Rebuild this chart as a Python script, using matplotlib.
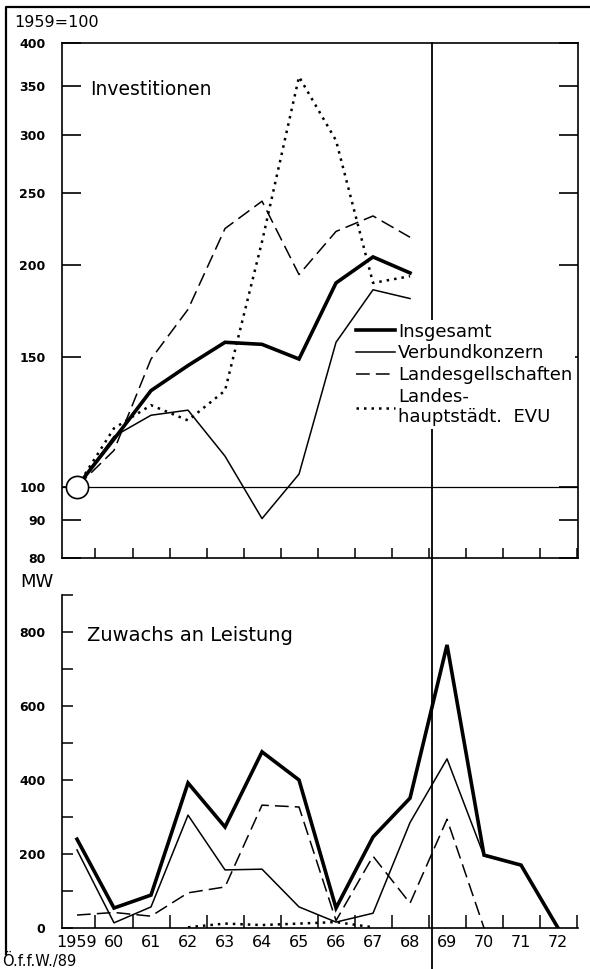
import matplotlib
matplotlib.use("Agg")
import matplotlib.pyplot as plt
from matplotlib.lines import Line2D
from matplotlib.ticker import FixedLocator, NullLocator, FixedFormatter

# Investitionen, index 1959 = 100
years_inv = [1959, 1960, 1961, 1962, 1963, 1964, 1965, 1966, 1967, 1968]
insgesamt_inv = [100, 116, 135, 146, 157, 156, 149, 189, 205, 195]
verbund_inv = [100, 117, 125, 127, 110, 90.5, 104, 157, 185, 180]
landesges_inv = [100, 112, 149, 174, 224, 244, 194, 222, 233, 218]
hauptst_inv = [100, 120, 129, 123, 135, 215, 360, 295, 189, 193]

# Zuwachs an Leistung, MW
years_mw = list(range(1959, 1973))
insgesamt_mw = [240, 54, 89, 392, 273, 476, 400, 54, 246, 351, 765, 197, 170, 0]
verbund_mw = [211, 14, 57, 305, 157, 159, 57, 16, 40, 285, 457, 195, 170, 0]
years_landesges_mw = list(range(1959, 1971))
landesges_mw = [35, 42, 32, 95, 111, 332, 327, 20, 194, 67, 294, 0]
years_hauptst_mw = [1962, 1963, 1964, 1965, 1966, 1967]
hauptst_mw = [2, 12, 8, 12, 16, 2]

labels = ["Insgesamt", "Verbundkonzern", "Landesgellschaften",
          "Landes-\nhauptstädt.  EVU"]
inv_ticks = [80, 90, 100, 150, 200, 250, 300, 350, 400]
mw_ticks = [0, 100, 200, 300, 400, 500, 600, 700, 800, 900]
mw_labels = ["0", "", "200", "", "400", "", "600", "", "800", ""]
year_labels = ["1959"] + [str(y % 100) for y in years_mw[1:]]
split_year = 1968.6

styles = [
    dict(color="black", lw=2.6, solid_joinstyle="miter"),
    dict(color="black", lw=1.1),
    dict(color="black", lw=1.1, dashes=(9, 4)),
    dict(color="black", lw=1.8, dashes=(1, 2.0)),
]

fig = plt.figure(figsize=(5.9, 9.69), dpi=100)
ax1 = fig.add_axes([0.1051, 0.4241, 0.8746, 0.5315])
ax2 = fig.add_axes([0.1051, 0.0423, 0.8746, 0.3437])
ax2.patch.set_visible(False)

xlim = (1958.595, 1972.54)
half_years = [y + 0.5 for y in years_mw]

# --- top panel ---
for vals, st, lab in zip([insgesamt_inv, verbund_inv, landesges_inv, hauptst_inv],
                         styles, labels):
    ax1.plot(years_inv, vals, label=lab, **st)
ax1.plot(years_inv[0], insgesamt_inv[0], "o", ms=16, mfc="white", mec="black",
         mew=1.2, zorder=6, clip_on=False)
ax1.axhline(100, color="black", lw=0.9)
ax1.axvline(split_year, ymin=-0.8, ymax=1, color="black", lw=1.3, clip_on=False)

ax1.set_yscale("log")
ax1.set_ylim(80, 400)
ax1.set_xlim(*xlim)
ax1.yaxis.set_major_locator(FixedLocator(inv_ticks))
ax1.yaxis.set_major_formatter(FixedFormatter([str(t) for t in inv_ticks]))
ax1.yaxis.set_minor_locator(NullLocator())
ax1.xaxis.set_major_locator(FixedLocator(half_years))
ax1.xaxis.set_minor_locator(NullLocator())
ax1.tick_params(axis="y", which="major", direction="in", left=True, right=True,
                length=13.5, width=1.2, pad=12, labelsize=9)
ax1.tick_params(axis="x", which="major", direction="in", length=7, width=1.1,
                labelbottom=False)
for lbl in ax1.get_yticklabels():
    lbl.set_fontweight("bold")
for sp in ax1.spines.values():
    sp.set_linewidth(1.2)

ax1.text(0.054, 0.909, "Investitionen", transform=ax1.transAxes,
         fontsize=13.5, ha="left", va="center")

leg = ax1.legend(loc="upper left", bbox_to_anchor=(0.565, 0.462), fontsize=13,
                 frameon=True, framealpha=1, edgecolor="white", fancybox=False,
                 handlelength=2.15, handletextpad=0.15, labelspacing=0.2,
                 borderpad=0.15, borderaxespad=0)
leg.get_frame().set_linewidth(0)

# --- bottom panel ---
ax2.plot(years_mw, verbund_mw, **styles[1])
ax2.plot(years_landesges_mw, landesges_mw, **styles[2])
ax2.plot(years_hauptst_mw, hauptst_mw, **styles[3])
ax2.plot(years_mw, insgesamt_mw, **styles[0])

ax2.set_ylim(0, 900)
ax2.set_xlim(*xlim)
ax2.yaxis.set_major_locator(FixedLocator(mw_ticks))
ax2.yaxis.set_major_formatter(FixedFormatter(mw_labels))
ax2.xaxis.set_major_locator(FixedLocator(half_years))
ax2.xaxis.set_major_formatter(FixedFormatter([""] * len(half_years)))
ax2.xaxis.set_minor_locator(FixedLocator(years_mw))
ax2.xaxis.set_minor_formatter(FixedFormatter(year_labels))
ax2.tick_params(axis="y", direction="in", length=8, width=1.1, pad=12,
                labelsize=9)
ax2.tick_params(axis="x", which="major", direction="in", length=9.5, width=1.1)
ax2.tick_params(axis="x", which="minor", length=0, pad=5, labelsize=11.5)
for lbl in ax2.get_yticklabels():
    lbl.set_fontweight("bold")
ax2.spines["top"].set_visible(False)
ax2.spines["right"].set_visible(False)
ax2.spines["left"].set_linewidth(1.2)
ax2.spines["bottom"].set_linewidth(1.2)

ax2.text(0.048, 0.877, "Zuwachs an Leistung", transform=ax2.transAxes,
         fontsize=14, ha="left", va="center")

# --- figure texts and frame ---
fig.text(0.025, 0.9768, "1959=100", fontsize=11.5, ha="left", va="center")
fig.text(0.034, 0.3994, "MW", fontsize=13, ha="left", va="center")
fig.text(0.003, 0.0085, "Ö.f.f.W./89", fontsize=10.5, ha="left", va="center")
fig.add_artist(Line2D([0.010, 0.010, 1.0], [0.015, 0.993, 0.993],
                      transform=fig.transFigure, color="black", lw=1.6))

fig.savefig("out.png", dpi=100)
